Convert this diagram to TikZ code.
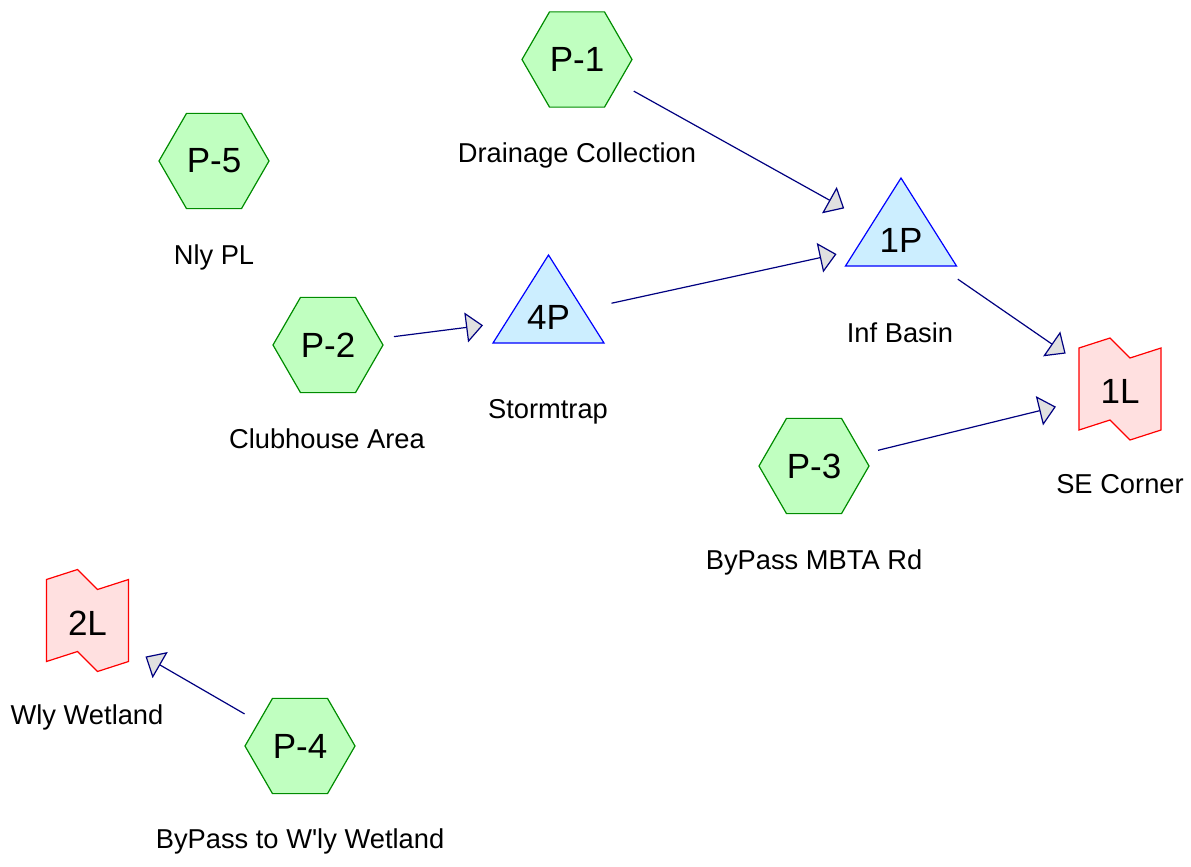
\documentclass[tikz,border=0pt]{standalone}
\usepackage{fontspec}
\newfontfamily\lsans{Liberation Sans}
\usetikzlibrary{arrows.meta,shapes.geometric}
\definecolor{hexfill}{RGB}{192,255,192}
\definecolor{hexdraw}{RGB}{0,140,0}
\definecolor{trifill}{RGB}{204,238,255}
\definecolor{tridraw}{RGB}{0,0,255}
\definecolor{linkfill}{RGB}{255,224,224}
\definecolor{linkdraw}{RGB}{255,0,0}
\definecolor{conncol}{RGB}{0,0,128}
\definecolor{tipfill}{RGB}{224,224,224}
\newcommand{\trishape}[1]{\draw[trist,shift={#1}] (0,-58.7) -- (55.5,29.3) -- (-55.5,29.3) -- cycle;}
\newcommand{\linkshape}[1]{\draw[linkst,shift={#1}] (-41,-41) -- (-10,-51) -- (10,-31) -- (41,-41) -- (41,41) -- (10,51) -- (-10,31) -- (-41,41) -- cycle;}
\begin{document}
\begin{tikzpicture}[x=1pt,y=-1pt,
  hex/.style={regular polygon, regular polygon sides=6, minimum size=110pt, inner sep=0pt, outer sep=0pt, draw=hexdraw, fill=hexfill, line width=1.2pt, font=\lsans\fontsize{35}{35}\selectfont},
  trist/.style={draw=tridraw, fill=trifill, line width=1.2pt, line join=miter},
  linkst/.style={draw=linkdraw, fill=linkfill, line width=1.2pt, line join=miter},
  nodetxt/.style={inner sep=0pt, font=\lsans\fontsize{35}{35}\selectfont},
  lbl/.style={inner sep=0pt, anchor=base, font=\lsans\fontsize{27.3}{30}\selectfont},
  conn/.style={draw=conncol, line width=1.2pt, -{Triangle[length=17pt, width=30pt, fill=tipfill]}}
]
\useasboundingbox (0,0) rectangle (1191,867);
% hexagons
\node[hex] (p1) at (577,59.5) {P-1};
\node[hex] (p5) at (214,161) {P-5};
\node[hex] (p2) at (328,345) {P-2};
\node[hex] (p3) at (814,466) {P-3};
\node[hex] (p4) at (300,746) {P-4};
% triangles
\trishape{(901,236.7)}
\trishape{(548.5,313.7)}
\node[nodetxt] (1p) at (901,240) {1P};
\node[nodetxt] (4p) at (548.5,317) {4P};
% links
\linkshape{(1120,389)}
\linkshape{(87.5,620.5)}
\node[nodetxt] (1l) at (1120,391) {1L};
\node[nodetxt] (2l) at (87.5,623) {2L};
% labels
\node[lbl] (lp1) at (577,162) {Drainage Collection};
\node[lbl] (lp5) at (214,264) {Nly PL};
\node[lbl] (lp2) at (327,448) {Clubhouse Area};
\node[lbl] (l4p) at (548,418) {Stormtrap};
\node[lbl] (l1p) at (900,342) {Inf Basin};
\node[lbl] (l1l) at (1120,493) {SE Corner};
\node[lbl] (lp3) at (814,569) {ByPass MBTA Rd};
\node[lbl] (l2l) at (87,724) {Wly Wetland};
\node[lbl] (lp4) at (300,848) {ByPass to W'ly Wetland};
% connectors
\draw[conn, shorten <=65pt, shorten >=65pt] (p1.center) -- (1p.center);
\draw[conn, shorten <=64.5pt, shorten >=66pt] (4p.center) -- (1p.center);
\draw[conn, shorten <=66.5pt, shorten >=66pt] (p2.center) -- (4p.center);
\draw[conn, shorten <=69pt, shorten >=66pt] (1p.center) -- (1l.center);
\draw[conn, shorten <=66pt, shorten >=66pt] (p3.center) -- (1l.center);
\draw[conn, shorten <=64pt, shorten >=67pt] (p4.center) -- (2l.center);
\end{tikzpicture}
\end{document}
